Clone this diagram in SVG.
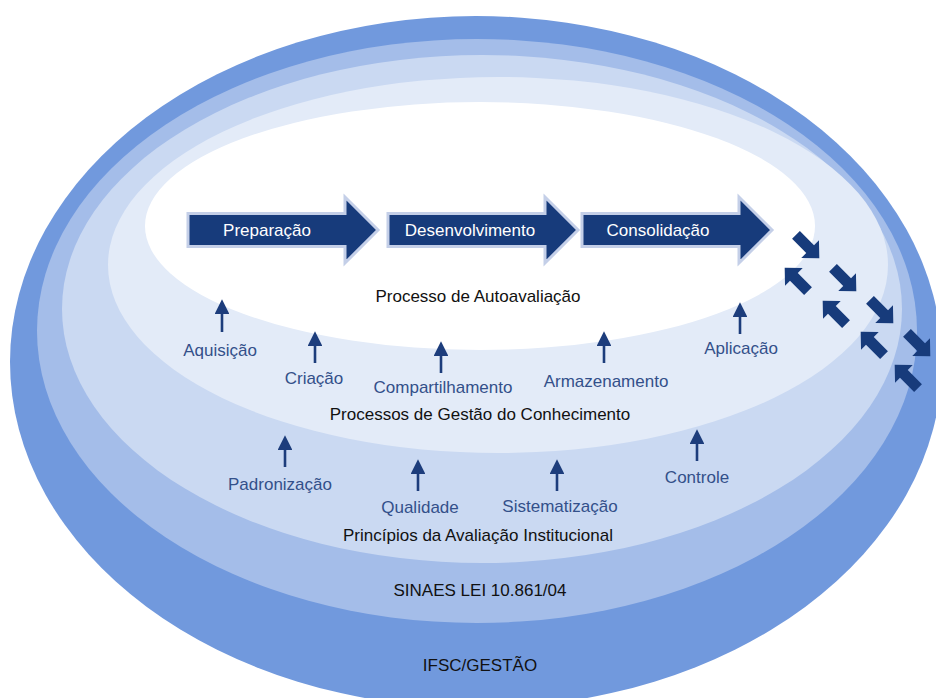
<svg xmlns="http://www.w3.org/2000/svg" xmlns:xlink="http://www.w3.org/1999/xlink" width="936" height="698" viewBox="0 0 936 698">
  <style>
    text { font-family: "Liberation Sans", Arial, sans-serif; text-anchor: middle; }
    .title { font-size: 17px; fill: #111111; }
    .label { font-size: 17px; fill: #33508a; }
    .step  { font-size: 17px; fill: #ffffff; }
    .up    { stroke: #1d3d7c; stroke-width: 2.6; fill: none; marker-end: url(#head); }
    .blk   { fill: #173b7b; }
  </style>
  <defs>
    <marker id="head" viewBox="0 0 10 10" refX="2" refY="5" markerWidth="5.6" markerHeight="5.6" orient="auto" markerUnits="strokeWidth">
      <path d="M0,0 L10,5 L0,10 Z" fill="#1d3d7c"/>
    </marker>
    <!-- process step arrow: body plus head, origin at body left/middle -->
    <path id="step" d="M0,-16.5 H157 V-33 L190,0 L157,33 V16.5 H0 Z"/>
    <!-- small block arrow pointing along +x, centred on origin -->
    <path id="blk" d="M-17,-5.5 H3 V-12.5 L16,0 L3,12.5 V5.5 H-17 Z"/>
  </defs>

  <rect width="936" height="698" fill="#ffffff"/>

  <!-- nested context layers, outermost first -->
  <g id="layer-ifsc"><ellipse cx="476" cy="362" rx="466" ry="346" fill="#7199dd"/></g>
  <g id="layer-sinaes"><ellipse cx="477" cy="331" rx="440" ry="292" fill="#a4bde9"/></g>
  <g id="layer-principios"><ellipse cx="482" cy="309" rx="420" ry="254" fill="#cad9f2"/></g>
  <g id="layer-gestao"><ellipse cx="498" cy="265" rx="390" ry="188" fill="#e3ebf8"/></g>
  <g id="layer-autoavaliacao"><ellipse cx="480" cy="226" rx="335" ry="124" fill="#ffffff"/></g>

  <!-- process steps -->
  <g id="step-preparacao">
    <use xlink:href="#step" href="#step" x="188" y="230" fill="#173b7b" stroke="#c4cfe8" stroke-width="3"/>
    <text class="step" x="267" y="236">Preparação</text>
  </g>
  <g id="step-desenvolvimento">
    <use xlink:href="#step" href="#step" x="388" y="230" fill="#173b7b" stroke="#c4cfe8" stroke-width="3"/>
    <text class="step" x="470" y="236">Desenvolvimento</text>
  </g>
  <g id="step-consolidacao">
    <use xlink:href="#step" href="#step" x="582" y="230" fill="#173b7b" stroke="#c4cfe8" stroke-width="3"/>
    <text class="step" x="658" y="236">Consolidação</text>
  </g>

  <!-- layer titles -->
  <g id="title-autoavaliacao"><text class="title" x="478" y="302">Processo de Autoavaliação</text></g>
  <g id="title-gestao"><text class="title" x="480" y="420">Processos de Gestão do Conhecimento</text></g>
  <g id="title-principios"><text class="title" x="478" y="541">Princípios da Avaliação Institucional</text></g>
  <g id="title-sinaes"><text class="title" x="480" y="596">SINAES LEI 10.861/04</text></g>
  <g id="title-ifsc"><text class="title" x="480" y="671">IFSC/GESTÃO</text></g>

  <!-- knowledge management processes -->
  <g id="gc-aquisicao"><text class="label" x="220" y="356">Aquisição</text></g>
  <g id="gc-criacao"><text class="label" x="314" y="384">Criação</text></g>
  <g id="gc-compartilhamento"><text class="label" x="443" y="393">Compartilhamento</text></g>
  <g id="gc-armazenamento"><text class="label" x="606" y="387">Armazenamento</text></g>
  <g id="gc-aplicacao"><text class="label" x="741" y="354">Aplicação</text></g>

  <!-- evaluation principles -->
  <g id="pr-padronizacao"><text class="label" x="280" y="490">Padronização</text></g>
  <g id="pr-qualidade"><text class="label" x="420" y="513">Qualidade</text></g>
  <g id="pr-sistematizacao"><text class="label" x="560" y="512">Sistematização</text></g>
  <g id="pr-controle"><text class="label" x="697" y="483">Controle</text></g>

  <!-- connectors -->
  <g id="connectors">
    <line class="up" x1="222" y1="332" x2="222" y2="311"/>
    <line class="up" x1="315" y1="363" x2="315" y2="343"/>
    <line class="up" x1="441" y1="373" x2="441" y2="353"/>
    <line class="up" x1="604" y1="363" x2="604" y2="343"/>
    <line class="up" x1="740" y1="334" x2="740" y2="314"/>
    <line class="up" x1="285" y1="467" x2="285" y2="447"/>
    <line class="up" x1="418" y1="491" x2="418" y2="471"/>
    <line class="up" x1="557" y1="491" x2="557" y2="471"/>
    <line class="up" x1="697" y1="461" x2="697" y2="441"/>

    <!-- exchange with the surrounding context -->
    <use xlink:href="#blk" href="#blk" class="blk" transform="translate(808,247) rotate(45)"/>
    <use xlink:href="#blk" href="#blk" class="blk" transform="translate(845,280) rotate(45)"/>
    <use xlink:href="#blk" href="#blk" class="blk" transform="translate(882,312) rotate(45)"/>
    <use xlink:href="#blk" href="#blk" class="blk" transform="translate(919,345) rotate(45)"/>
    <use xlink:href="#blk" href="#blk" class="blk" transform="translate(796,279) rotate(-135)"/>
    <use xlink:href="#blk" href="#blk" class="blk" transform="translate(834,312) rotate(-135)"/>
    <use xlink:href="#blk" href="#blk" class="blk" transform="translate(872,343) rotate(-135)"/>
    <use xlink:href="#blk" href="#blk" class="blk" transform="translate(906,376) rotate(-135)"/>
  </g>
</svg>
